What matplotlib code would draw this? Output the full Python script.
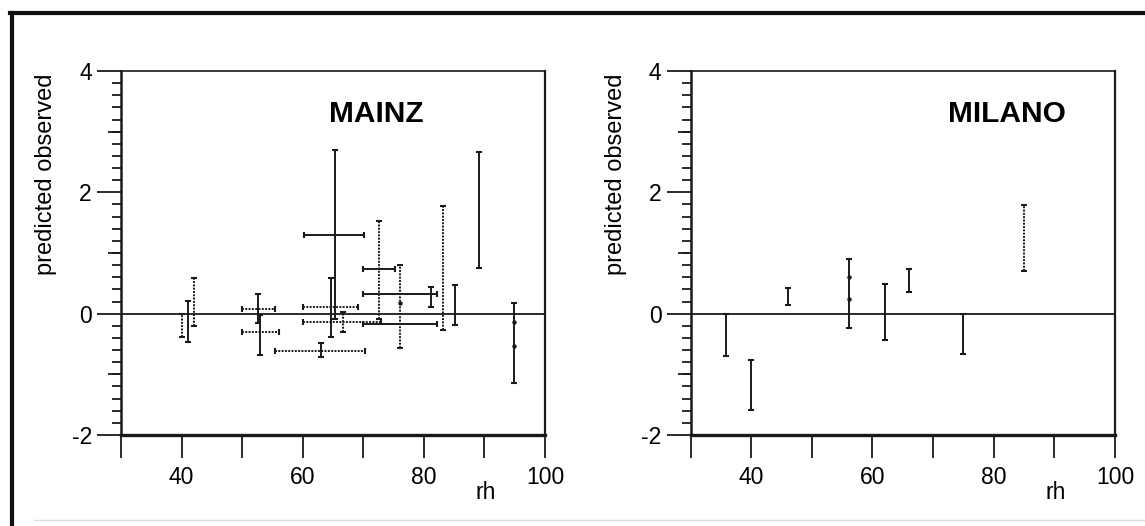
import matplotlib
matplotlib.use("Agg")
import matplotlib.pyplot as plt
from matplotlib.lines import Line2D
from matplotlib.ticker import MultipleLocator, FixedLocator, NullFormatter

plt.rcParams["font.family"] = ["Liberation Sans", "DejaVu Sans"]
plt.rcParams["axes.unicode_minus"] = False

# MAINZ: vertical ranges (rh, low, high, dotted)
mainz_v_rh = [40.0, 41.0, 42.0, 52.6, 53.0, 63.0, 64.7, 65.3, 66.6, 72.6, 76.0, 81.1, 83.1, 85.1, 89.1, 94.8]
mainz_v_lo = [-0.38, -0.46, -0.21, -0.15, -0.68, -0.72, -0.38, -0.08, -0.31, -0.08, -0.57, 0.11, -0.27, -0.18, 0.76, -1.14]
mainz_v_hi = [0.00, 0.21, 0.58, 0.32, -0.02, -0.48, 0.59, 2.69, 0.03, 1.53, 0.80, 0.44, 1.78, 0.47, 2.66, 0.18]
mainz_v_dot = [True, False, True, False, False, False, False, False, True, True, True, False, True, False, False, False]

# MAINZ: horizontal ranges (value, rh low, rh high, dotted)
mainz_h_y = [0.08, -0.30, -0.61, 1.29, 0.11, -0.14, 0.73, 0.32, -0.17]
mainz_h_lo = [49.9, 49.9, 55.4, 60.2, 60.1, 60.1, 70.0, 70.0, 70.0]
mainz_h_hi = [55.4, 56.1, 70.3, 70.1, 69.2, 73.0, 75.2, 82.1, 82.1]
mainz_h_dot = [True, True, True, False, True, True, False, False, False]

mainz_pt_rh = [76.0, 94.8, 94.8]
mainz_pt_y = [0.18, -0.13, -0.53]

# MILANO: vertical ranges
milano_v_rh = [35.8, 40.0, 46.0, 56.1, 62.0, 66.0, 75.0, 85.0]
milano_v_lo = [-0.70, -1.58, 0.14, -0.23, -0.44, 0.35, -0.66, 0.70]
milano_v_hi = [0.00, -0.76, 0.43, 0.90, 0.49, 0.73, 0.00, 1.79]
milano_v_dot = [False, False, False, False, False, False, False, True]

milano_pt_rh = [56.1, 56.1]
milano_pt_y = [0.60, 0.24]

x_ticks = [30, 40, 50, 60, 70, 80, 90, 100]
x_labels = ["", "40", "", "60", "", "80", "", "100"]
y_ticks = [-2, 0, 2, 4]
y_mid_ticks = [-1, 1, 3]

INK = "#1a1a1a"
DOT = (0, (1.0, 0.7))


def draw_vertical(ax, xs, lo, hi, dotted):
    for x, a, b, d in zip(xs, lo, hi, dotted):
        ax.plot([x, x], [a, b], color=INK, lw=1.4, ls=DOT if d else "-",
                solid_capstyle="butt", zorder=3)
        ax.plot([x, x], [a, b], ls="none", marker="_", ms=4, mew=1.5, color=INK, zorder=3)


def draw_horizontal(ax, ys, lo, hi, dotted):
    for y, a, b, d in zip(ys, lo, hi, dotted):
        ax.plot([a, b], [y, y], color=INK, lw=1.4, ls=DOT if d else "-",
                solid_capstyle="butt", zorder=3)
        ax.plot([a, b], [y, y], ls="none", marker="|", ms=4, mew=1.5, color=INK, zorder=3)


def style_axes(ax, name, name_x):
    ax.set_xlim(30, 100)
    ax.set_ylim(-2, 4)
    ax.axhline(0, color=INK, lw=1.3, zorder=2)

    for side, w in (("top", 1.2), ("right", 1.6), ("left", 1.8), ("bottom", 2.4)):
        ax.spines[side].set_linewidth(w)
        ax.spines[side].set_color(INK)

    ax.xaxis.set_major_locator(FixedLocator(x_ticks))
    ax.set_xticklabels(x_labels)
    ax.tick_params(axis="x", direction="out", length=16.5, width=1.3, pad=6,
                   labelsize=16.5, color=INK)

    ax.yaxis.set_major_locator(FixedLocator(y_ticks))
    ax.yaxis.set_minor_locator(MultipleLocator(0.2))
    ax.yaxis.set_minor_formatter(NullFormatter())
    ax.tick_params(axis="y", which="major", direction="out", length=17, width=1.3,
                   pad=4, labelsize=16.5, color=INK)
    ax.tick_params(axis="y", which="minor", direction="out", length=6.5, width=1.3,
                   color=INK)

    sec = ax.secondary_yaxis("left")
    sec.set_yticks(y_mid_ticks)
    sec.tick_params(axis="y", direction="out", length=9.5, width=1.3,
                    labelleft=False, color=INK)
    sec.spines["left"].set_visible(False)

    ax.set_ylabel("predicted observed", fontsize=17)
    ax.yaxis.set_label_coords(-0.150, 0.717)

    ax.annotate("rh", xy=(90.2, -0.175), xycoords=("data", "axes fraction"),
                ha="center", va="baseline", fontsize=16.5)
    ax.text(name_x, 0.882, name, transform=ax.transAxes, ha="center", va="center",
            fontsize=21.5, fontweight="bold")


fig = plt.figure(figsize=(11.45, 5.26), dpi=100)
ax1 = fig.add_axes([0.1057, 0.173, 0.3703, 0.692])
ax2 = fig.add_axes([0.6031, 0.173, 0.3707, 0.692])

draw_vertical(ax1, mainz_v_rh, mainz_v_lo, mainz_v_hi, mainz_v_dot)
draw_horizontal(ax1, mainz_h_y, mainz_h_lo, mainz_h_hi, mainz_h_dot)
ax1.plot(mainz_pt_rh, mainz_pt_y, ls="none", marker="o", ms=2.2, color=INK, zorder=4)
style_axes(ax1, "MAINZ", 0.603)

draw_vertical(ax2, milano_v_rh, milano_v_lo, milano_v_hi, milano_v_dot)
ax2.plot(milano_pt_rh, milano_pt_y, ls="none", marker="o", ms=2.2, color=INK, zorder=4)
style_axes(ax2, "MILANO", 0.7455)

# outer frame of the scanned figure
fig.add_artist(Line2D([0.009, 1.0], [0.9753, 0.9753], color="#111111", lw=3.0))
fig.add_artist(Line2D([0.0105, 0.0105], [0.0, 0.9753], color="#111111", lw=3.0))
fig.add_artist(Line2D([0.03, 1.0], [0.0114, 0.0114], color="#dddddd", lw=1.0))

fig.savefig("out.png", dpi=100, facecolor="white")
